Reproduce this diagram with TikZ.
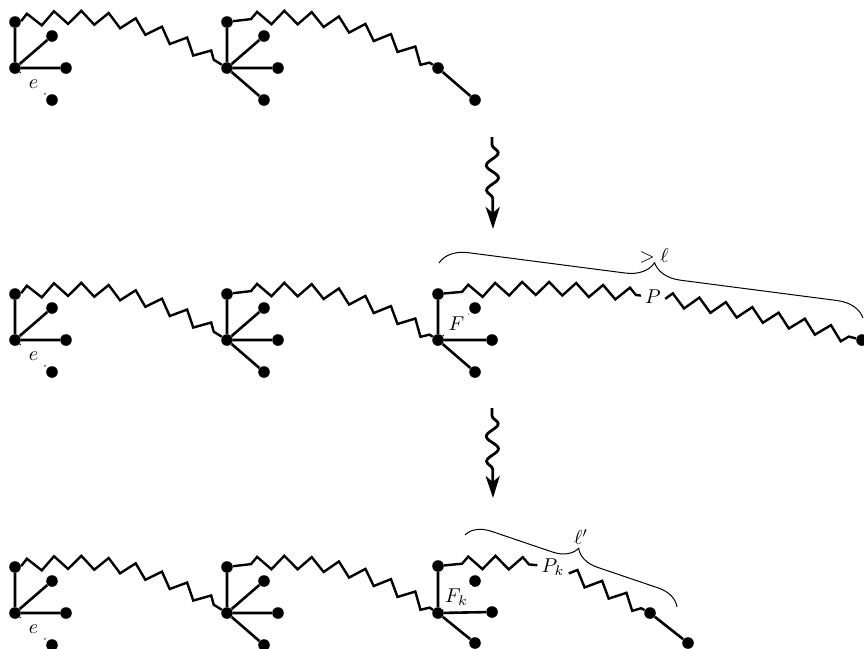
\documentclass[tikz,border=0pt]{standalone}
\usetikzlibrary{decorations.pathmorphing,decorations.pathreplacing,arrows.meta}
\begin{document}
\begin{tikzpicture}[x=0.5pt,y=-0.5pt,
 dot/.style={circle,fill,inner sep=0pt,minimum size=5.8pt},
 edge/.style={line width=1.3pt},
 zz/.style={line width=1.2pt,decorate,decoration={zigzag,segment length=13.4pt,amplitude=3.3pt}},
 zzpre/.style={zz,decoration={pre=lineto,pre length=9pt}},
 dotedge/.style={line width=0.6pt,dash pattern=on 0.6pt off 3.5pt},
 lab/.style={fill=white,inner sep=2pt},
 plab/.style={inner sep=2pt},
 brc/.style={decorate,decoration={brace,amplitude=#1},line width=0.5pt},
 wig/.style={line width=1.4pt,decorate,decoration={snake,segment length=12.5pt,amplitude=3pt,pre length=4pt,post length=14pt},-{Stealth[length=11pt,width=7pt,inset=3pt]}}
]
\useasboundingbox (0,0) rectangle (864,649);

\foreach \row/\dy in {1/0,2/272,3/545}{
 \node[dot] (a\row t) at (15,{22+\dy}) {};
 \node[dot] (a\row c) at (15,{68+\dy}) {};
 \node[dot] (a\row u) at (52,{36+\dy}) {};
 \node[dot] (a\row m) at (66,{68+\dy}) {};
 \node[dot] (a\row d) at (52,{100+\dy}) {};
 \node[dot] (b\row t) at (227,{22+\dy}) {};
 \node[dot] (b\row c) at (227,{68+\dy}) {};
 \node[dot] (b\row u) at (264,{36+\dy}) {};
 \node[dot] (b\row m) at (278,{68+\dy}) {};
 \node[dot] (b\row d) at (264,{100+\dy}) {};
 \node[dot] (c\row c) at (438,{68+\dy}) {};
 \draw[edge] (a\row c) -- (a\row t) (a\row c) -- (a\row u) (a\row c) -- (a\row m);
 \draw[dotedge] (a\row c) -- node[lab]{$e$} (a\row d);
 \draw[edge] (b\row c) -- (b\row t) (b\row c) -- (b\row u) (b\row c) -- (b\row m) (b\row c) -- (b\row d);
 \draw[zz] (a\row t) to[bend left=20] (b\row c);
 \draw[zzpre] (b\row t) to[bend left=20] (c\row c);
}

% row 1
\node[dot] (c1d) at (475,100) {};
\draw[edge] (c1c) -- (c1d);

% row 2
\node[dot] (c2t) at (438,294) {};
\node[dot] (c2u) at (475,308) {};
\node[dot] (c2m) at (492,340) {};
\node[dot] (c2d) at (475,372) {};
\node[dot] (e2) at (862,340) {};
\node[plab] (P) at (653,297) {$P$};
\draw[edge] (c2c) -- (c2t) (c2c) -- (c2m) (c2c) -- (c2d);
\draw[dotedge] (c2c) -- node[lab]{$F$} (c2u);
\draw[zzpre] (c2t) to[bend left=6] (P);
\draw[zz] (P) to[bend left=3] (e2);
\coordinate (br2s) at (439,263);
\coordinate (br2e) at (863,318);
\draw[brc=14pt] (br2s) -- (br2e);
\node (L2) at (654,256) {$>\ell$};

% row 3
\node[dot] (c3t) at (438,566) {};
\node[dot] (c3u) at (475,581) {};
\node[dot] (c3m) at (492,612) {};
\node[dot] (c3d) at (475,643) {};
\node[plab] (Pk) at (553,567) {$P_k$};
\node[dot] (e3) at (650,613) {};
\node[dot] (f3) at (688,643) {};
\draw[edge] (c3c) -- (c3t) (c3c) -- (c3m) (c3c) -- (c3d) (e3) -- (f3);
\draw[dotedge] (c3c) -- node[lab]{$F_k$} (c3u);
\draw[zzpre] (c3t) to[bend left=6] (Pk);
\draw[zz] (Pk) to[bend left=3] (e3);
\coordinate (br3s) at (465,535);
\coordinate (br3e) at (677,607);
\draw[brc=12pt] (br3s) -- (br3e);
\node (L3) at (581,537) {$\ell'$};

% wiggly arrows
\coordinate (w1s) at (492,137);
\coordinate (w1e) at (493,229);
\coordinate (w2s) at (492,408);
\coordinate (w2e) at (493,498);
\draw[wig] (w1s) -- (w1e);
\draw[wig] (w2s) -- (w2e);
\end{tikzpicture}
\end{document}
